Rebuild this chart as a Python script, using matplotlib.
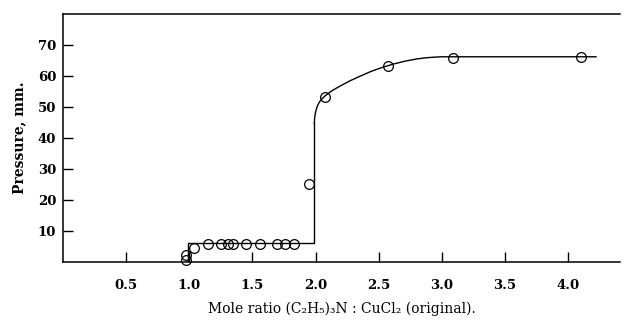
import matplotlib
matplotlib.use("Agg")
import matplotlib.pyplot as plt

# data points (mole ratio, pressure mm)
ratio = [0.976, 0.976, 1.037, 1.148, 1.247, 1.305, 1.345, 1.45, 1.563, 1.695, 1.758, 1.826,
         1.95, 2.073, 2.57, 3.09, 4.10]
pressure = [2.3, 0.7, 4.4, 5.9, 5.9, 5.9, 5.9, 5.9, 5.9, 5.9, 5.9, 5.9,
            25.2, 53.3, 63.2, 65.9, 66.1]

# drawn curve
step_x = [0.99, 0.99, 1.99, 1.99]
step_y = [0.0, 6.0, 6.0, 45.0]
curve_x = [1.99, 1.992, 1.997, 2.005, 2.015, 2.03, 2.05, 2.07, 2.1, 2.14, 2.2, 2.27,
           2.35, 2.44, 2.53, 2.62, 2.71, 2.8, 2.88, 2.95, 3.0, 4.22]
curve_y = [44.7, 46.3, 47.8, 49.2, 50.4, 51.6, 52.6, 53.4, 54.4, 55.5, 56.9, 58.4,
           59.9, 61.5, 62.8, 63.9, 64.8, 65.5, 65.9, 66.1, 66.2, 66.2]

xticks = [0.5, 1.0, 1.5, 2.0, 2.5, 3.0, 3.5, 4.0]
xticklabels = ["0.5", "1.0", "1.5", "2.0", "2.5", "3.0", "3.5", "4.0"]
yticks = [10, 20, 30, 40, 50, 60, 70]
yticklabels = ["10", "20", "30", "40", "50", "60", "70"]

plt.rcParams['font.family'] = ['DejaVu Serif']

fig = plt.figure(figsize=(6.25, 3.2), dpi=100)
ax = fig.add_axes([63/625, (320-262)/320, (620-63)/625, (262-14)/320])
ax.set_xlim(0, 4.41)
ax.set_ylim(0, 80)

ax.plot(step_x, step_y, color='black', lw=1.0)
ax.plot(curve_x, curve_y, color='black', lw=1.0)
ax.plot(ratio, pressure, linestyle='none', marker='o', markersize=7,
        markerfacecolor='none', markeredgecolor='black', markeredgewidth=0.9, clip_on=False)

ax.spines['right'].set_visible(False)
for s in ['left', 'bottom', 'top']:
    ax.spines[s].set_linewidth(1.1)

ax.set_xticks(xticks)
ax.set_xticklabels(xticklabels, fontsize=9.5, fontweight='bold')
ax.set_yticks(yticks)
ax.set_yticklabels(yticklabels, fontsize=9.5, fontweight='bold')
ax.tick_params(axis='both', direction='in', length=7, width=1.0)
ax.tick_params(axis='x', pad=12)
ax.tick_params(axis='y', pad=5)

ax.set_ylabel("Pressure, mm.", fontsize=10, fontweight='bold', labelpad=8)
ax.set_xlabel("Mole ratio (C₂H₅)₃N : CuCl₂ (original).", fontsize=10, labelpad=7)

fig.savefig("out.png", dpi=100)
